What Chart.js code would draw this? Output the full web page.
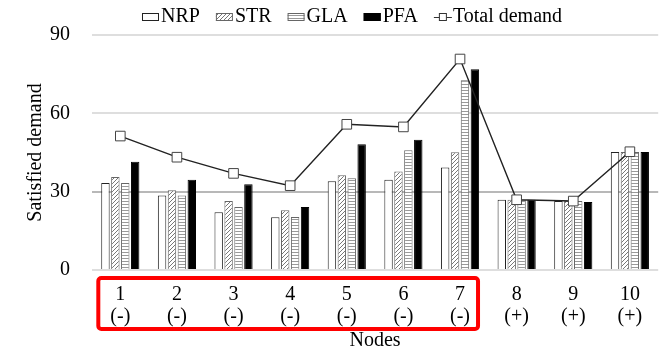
<!DOCTYPE html>
<html>
<head>
<meta charset="utf-8">
<script src="https://cdn.jsdelivr.net/npm/chart.js@4"></script>
<style>
  html, body { margin: 0; padding: 0; background: #fff; }
</style>
</head>
<body>
<canvas id="demandChart" width="666" height="351"></canvas>
<script>
const nodes = [['1', '(-)'], ['2', '(-)'], ['3', '(-)'], ['4', '(-)'], ['5', '(-)'],
               ['6', '(-)'], ['7', '(-)'], ['8', '(+)'], ['9', '(+)'], ['10', '(+)']];
const nrp = [33.3, 28.5, 22.1, 20.2, 34.0, 34.6, 39.3, 26.9, 26.4, 45.2];
const str = [35.6, 30.5, 26.4, 22.9, 36.3, 37.7, 45.1, 26.9, 26.4, 45.2];
const gla = [33.3, 28.5, 24.1, 20.3, 35.1, 45.9, 72.7, 26.9, 26.4, 45.2];
const pfa = [41.5, 34.6, 32.8, 24.1, 48.2, 49.9, 76.9, 26.9, 26.0, 45.2];
const totalDemand = [51.3, 43.2, 37.0, 32.3, 55.8, 54.8, 80.8, 26.9, 26.4, 45.3];
const yTicks = [0, 30, 60, 90];

const serif = 'Liberation Serif';

// hatch fills
function diagPattern() {
    const c = document.createElement('canvas');
    c.width = 4; c.height = 4;
    const g = c.getContext('2d');
    g.fillStyle = '#fff';
    g.fillRect(0, 0, 4, 4);
    g.strokeStyle = '#777';
    g.lineWidth = 1;
    g.beginPath();
    g.moveTo(0, 4); g.lineTo(4, 0);
    g.moveTo(-1, 1); g.lineTo(1, -1);
    g.moveTo(3, 5); g.lineTo(5, 3);
    g.stroke();
    return g.createPattern(c, 'repeat');
}
function horizPattern() {
    const c = document.createElement('canvas');
    c.width = 4; c.height = 3;
    const g = c.getContext('2d');
    g.fillStyle = '#fff';
    g.fillRect(0, 0, 4, 3);
    g.fillStyle = '#999';
    g.fillRect(0, 0, 4, 1);
    return g.createPattern(c, 'repeat');
}

// legend drawn by hand: icon sits right next to the text like in the original
const topLegend = {
    id: 'topLegend',
    afterDraw(chart) {
        const ctx = chart.ctx;
        const sets = chart.data.datasets;
        const iconW = 17, gap = 2, spacing = 16, cy = 17;
        ctx.save();
        ctx.font = '20px "' + serif + '"';
        ctx.textBaseline = 'middle';
        const widths = sets.map(ds => iconW + gap + ctx.measureText(ds.label).width);
        const total = widths.reduce((a, b) => a + b, 0) + spacing * (sets.length - 1);
        let x = chart.width / 2 + 19 - total / 2;
        sets.forEach((ds, i) => {
            if (ds.type === 'line') {
                ctx.strokeStyle = '#333';
                ctx.lineWidth = 1;
                ctx.beginPath();
                ctx.moveTo(x, cy + 0.5); ctx.lineTo(x + iconW + 1, cy + 0.5);
                ctx.stroke();
                ctx.fillStyle = '#fff';
                ctx.fillRect(x + 5.5, cy - 3.5, 7, 7);
                ctx.strokeRect(x + 5.5, cy - 3.5, 7, 7);
            } else {
                ctx.fillStyle = ds.backgroundColor;
                ctx.fillRect(x, cy - 4, iconW, 8);
                ctx.strokeStyle = ds.borderColor;
                ctx.lineWidth = 1;
                ctx.strokeRect(x + 0.5, cy - 3.5, iconW - 1, 7);
            }
            ctx.fillStyle = '#000';
            ctx.fillText(ds.label, x + iconW + gap, cy);
            x += widths[i] + spacing;
        });
        ctx.restore();
    }
};

const redBox = {
    id: 'redBox',
    afterDraw(chart) {
        const x = chart.scales.x;
        const ctx = chart.ctx;
        const left = x.getPixelForValue(0) - 22;
        const right = x.getPixelForValue(6) + 18;
        const top = chart.chartArea.bottom + 8;
        const bottom = top + 51;
        ctx.save();
        ctx.strokeStyle = '#ff0000';
        ctx.lineWidth = 4;
        ctx.beginPath();
        ctx.roundRect(left, top, right - left, bottom - top, 3);
        ctx.stroke();
        ctx.restore();
    }
};

const barCommon = { borderWidth: 1, barPercentage: 0.85, categoryPercentage: 0.7, order: 2 };

new Chart(document.getElementById('demandChart'), {
    type: 'bar',
    data: {
        labels: nodes,
        datasets: [
            { label: 'NRP', data: nrp, backgroundColor: '#fff', borderColor: '#222', ...barCommon },
            { label: 'STR', data: str, backgroundColor: diagPattern(), borderColor: '#666', ...barCommon },
            { label: 'GLA', data: gla, backgroundColor: horizPattern(), borderColor: '#666', ...barCommon },
            { label: 'PFA', data: pfa, backgroundColor: '#000', borderColor: '#000', ...barCommon },
            {
                type: 'line', label: 'Total demand', data: totalDemand,
                borderColor: '#222', borderWidth: 1.4, backgroundColor: '#fff',
                pointStyle: 'rect', pointRadius: 6.8, pointBorderColor: '#444', pointBorderWidth: 1,
                pointBackgroundColor: '#fff', order: 1
            }
        ]
    },
    options: {
        responsive: false,
        animation: false,
        layout: { padding: { top: 35, right: 0, left: 0, bottom: 0 } },
        plugins: {
            legend: { display: false },
            tooltip: { enabled: false }
        },
        scales: {
            x: {
                grid: { display: false, drawTicks: false },
                border: { display: false },
                ticks: { font: { family: serif, size: 20, lineHeight: 1.1 }, color: '#000', maxRotation: 0, padding: 14 },
                title: { display: true, text: 'Nodes', font: { family: serif, size: 20, lineHeight: 1 }, color: '#000', padding: { top: 0, bottom: 0 } },
                afterFit(scale) { scale.height = 81; }
            },
            y: {
                min: 0, max: 90,
                afterBuildTicks(axis) { axis.ticks = yTicks.map(v => ({ value: v })); },
                grid: {
                    color: ctx => ctx.tick && ctx.tick.value === 30 ? '#b8b8b8' : '#dedede',
                    lineWidth: 2,
                    drawTicks: false
                },
                border: { display: false },
                ticks: { font: { family: serif, size: 20 }, color: '#000', padding: 22 },
                title: { display: true, text: 'Satisfied demand', font: { family: serif, size: 20, lineHeight: 1 }, color: '#000', padding: { top: 26, bottom: 0 } },
                afterFit(scale) { scale.width = 92; }
            }
        }
    },
    plugins: [topLegend, redBox]
});
</script>
</body>
</html>
